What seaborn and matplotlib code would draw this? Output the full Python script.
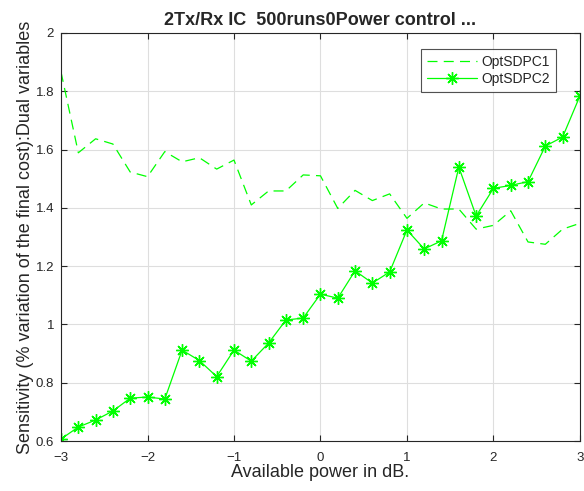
import matplotlib
matplotlib.use("Agg")
import matplotlib.pyplot as plt
import matplotlib.ticker as mticker
import seaborn as sns
import pandas as pd

# Available power (dB)
power_db = [-3.0, -2.8, -2.6, -2.4, -2.2, -2.0, -1.8, -1.6, -1.4, -1.2, -1.0,
            -0.8, -0.6, -0.4, -0.2, 0.0, 0.2, 0.4, 0.6, 0.8, 1.0,
            1.2, 1.4, 1.6, 1.8, 2.0, 2.2, 2.4, 2.6, 2.8, 3.0]

opt_sdpc1 = [1.866, 1.589, 1.637, 1.619, 1.523, 1.507, 1.593, 1.558, 1.572, 1.533, 1.564,
             1.410, 1.458, 1.458, 1.513, 1.510, 1.398, 1.460, 1.425, 1.448, 1.364,
             1.417, 1.396, 1.396, 1.327, 1.340, 1.390, 1.283, 1.275, 1.327, 1.347]

opt_sdpc2 = [0.607, 0.648, 0.672, 0.703, 0.747, 0.751, 0.744, 0.912, 0.876, 0.821, 0.912,
             0.874, 0.936, 1.015, 1.022, 1.104, 1.090, 1.184, 1.142, 1.180, 1.324,
             1.259, 1.287, 1.540, 1.372, 1.467, 1.477, 1.490, 1.612, 1.643, 1.784]

df = pd.DataFrame({"power": power_db, "OptSDPC1": opt_sdpc1, "OptSDPC2": opt_sdpc2})

sns.set_style("ticks")
plt.rcParams["font.family"] = ["Liberation Sans", "DejaVu Sans"]

fig = plt.figure(figsize=(5.84, 4.91), dpi=100)
ax = fig.add_axes([0.1045, 0.1018, 0.8885, 0.831])

green = "#00FF00"
asterisk = (8, 2, 0)
sns.lineplot(data=df, x="power", y="OptSDPC1", ax=ax, color=green, lw=0.9,
             linestyle=(0, (8, 5)), label="OptSDPC1")
sns.lineplot(data=df, x="power", y="OptSDPC2", ax=ax, color=green, lw=0.9,
             marker=asterisk, markersize=9, markeredgewidth=1.0,
             markeredgecolor=green, markerfacecolor=green, label="OptSDPC2")

ax.set_xlim(-3, 3)
ax.set_ylim(0.6, 2)
ax.set_xticks([-3, -2, -1, 0, 1, 2, 3])
ax.set_yticks([0.6, 0.8, 1.0, 1.2, 1.4, 1.6, 1.8, 2.0])
ax.yaxis.set_major_formatter(mticker.FuncFormatter(lambda v, p: "%g" % v))
ax.grid(True, color="#dedede", lw=0.8)
ax.set_axisbelow(True)
ax.tick_params(direction="in", length=4, labelsize=9.5, colors="#262626",
               top=True, right=True, pad=5)
ax.tick_params(axis="x", pad=8)
for s in ax.spines.values():
    s.set_color("#262626")
    s.set_linewidth(0.8)

ax.set_xlabel("Available power in dB.", fontsize=13, color="#262626", labelpad=0)
ax.set_ylabel("Sensitivity (% variation of the final cost):Dual variables",
              fontsize=13, color="#262626", labelpad=1)
ax.set_title("2Tx/Rx IC  500runs0Power control ...", fontsize=13, fontweight="bold",
             pad=6)

leg = ax.legend(loc="upper right", bbox_to_anchor=(0.968, 0.978), fontsize=10,
                frameon=True, fancybox=False, edgecolor="#262626",
                handlelength=3.6, borderpad=0.45, labelspacing=0.2, handletextpad=0.3)
leg.get_frame().set_linewidth(0.8)

fig.savefig("out.png", dpi=100)
